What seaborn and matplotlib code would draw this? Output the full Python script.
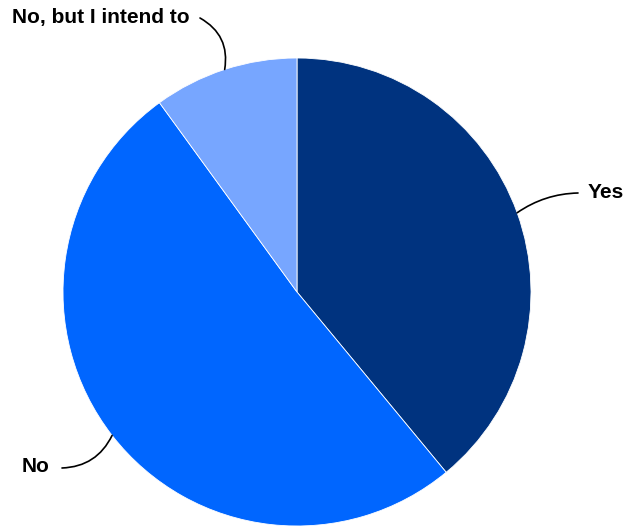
import numpy as np
import matplotlib
matplotlib.use("Agg")
import matplotlib.pyplot as plt
import seaborn as sns

# ─── data ─────────────────────────────────────────────────────────────────────
labels = ["Yes", "No", "No, but I intend to"]
shares = [39, 51, 10]
colors = ["#00337f", "#0066ff", "#77a6ff"]

# label text position (pixels, figure coords from top-left) and curve bend
label_pos = [(588, 192), (22, 467), (190, 17)]
label_ha = ["left", "left", "right"]
rads = [0.15, 0.3, -0.35]

sns.set_theme(style="white")
plt.rcParams["font.family"] = ["Liberation Sans", "DejaVu Sans"]

W, H = 626, 527
fig = plt.figure(figsize=(W / 100, H / 100), dpi=100)
ax = fig.add_axes([0, 0, 1, 1])

cx, cy, r = 297, H - 292, 234
wedges, _ = ax.pie(shares, colors=colors, startangle=90, counterclock=False,
                   center=(cx, cy), radius=r, frame=True,
                   wedgeprops=dict(edgecolor="white", linewidth=0.6))
ax.set_xlim(0, W)
ax.set_ylim(0, H)
ax.set_aspect("equal")
ax.axis("off")

for w, lab, (tx, ty), ha, rad in zip(wedges, labels, label_pos, label_ha, rads):
    ang = np.deg2rad((w.theta1 + w.theta2) / 2)
    px, py = cx + r * np.cos(ang), cy + r * np.sin(ang)
    ax.text(tx, H - ty, lab, ha=ha, va="center", fontsize=15,
            fontweight="bold", color="black")
    if lab == "No":
        sx = tx + 40
    elif ha == "left":
        sx = tx - 10
    else:
        sx = tx + 10
    ax.annotate("", xy=(px, py), xytext=(sx, H - ty - 1),
                arrowprops=dict(arrowstyle="-", color="black", lw=1.2,
                                shrinkA=0, shrinkB=0,
                                connectionstyle=f"arc3,rad={rad}"))

fig.savefig("out.png", dpi=100)
